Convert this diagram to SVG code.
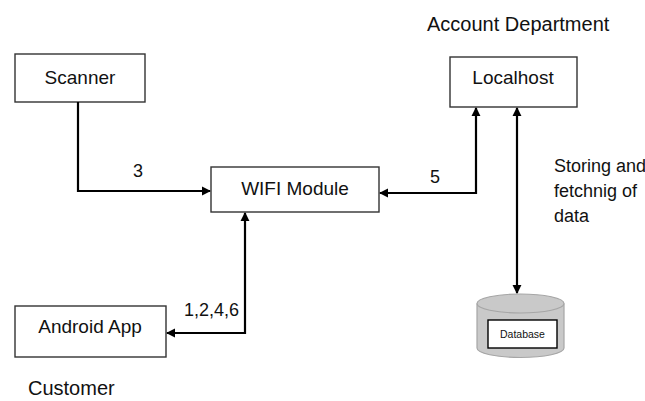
<svg xmlns="http://www.w3.org/2000/svg" width="645" height="401" viewBox="0 0 645 401">
  <defs>
    <marker id="arrow" viewBox="0 0 10 10" refX="9" refY="5" markerWidth="4.2" markerHeight="4.2" orient="auto-start-reverse" markerUnits="strokeWidth">
      <path d="M0,0 L10,5 L0,10 z" fill="#000"/>
    </marker>
  </defs>
  <style>
    .box { fill: #fff; stroke: #333; stroke-width: 1.4; }
    .node-text { font-family: "Liberation Sans", Arial, sans-serif; font-size: 19px; fill: #111; text-anchor: middle; }
    .label { font-family: "Liberation Sans", Arial, sans-serif; font-size: 18px; fill: #111; }
    .caption { font-family: "Liberation Sans", Arial, sans-serif; font-size: 20px; fill: #111; }
    .link { fill: none; stroke: #000; stroke-width: 2.2; }
    .cyl { fill: #c9c9c9; stroke: #a6a6a6; stroke-width: 1.2; }
  </style>
  <rect width="645" height="401" fill="#fff"/>

  <!-- captions -->
  <text class="caption" x="427" y="31">Account Department</text>
  <text class="caption" x="28" y="395">Customer</text>

  <!-- nodes -->
  <g id="scanner">
    <rect class="box" x="15" y="54" width="130" height="48"/>
    <text class="node-text" x="80" y="84">Scanner</text>
  </g>
  <g id="wifi-module">
    <rect class="box" x="211" y="167" width="168" height="45"/>
    <text class="node-text" x="295" y="195">WIFI Module</text>
  </g>
  <g id="localhost">
    <rect class="box" x="450" y="57" width="127" height="50"/>
    <text class="node-text" x="513" y="84">Localhost</text>
  </g>
  <g id="android-app">
    <rect class="box" x="15" y="306" width="151" height="51"/>
    <text class="node-text" x="90" y="333">Android App</text>
  </g>
  <g id="database">
    <path class="cyl" d="M477,303.5 L477,348 A43.5,9.5 0 0 0 564,348 L564,303.5"/>
    <ellipse class="cyl" cx="520.5" cy="303.5" rx="43.5" ry="9.5"/>
    <rect x="488" y="320" width="69" height="28" fill="#fff" stroke="#000" stroke-width="1.4"/>
    <text x="522.5" y="338" font-family="Liberation Sans, Arial, sans-serif" font-size="10.5px" fill="#111" text-anchor="middle">Database</text>
  </g>

  <!-- connectors -->
  <g id="connectors">
    <path class="link" d="M78,102 L78,191 L210,191" marker-end="url(#arrow)"/>
    <path class="link" d="M380,193 L476,193 L476,108" marker-start="url(#arrow)" marker-end="url(#arrow)"/>
    <path class="link" d="M167,333 L245,333 L245,213" marker-start="url(#arrow)" marker-end="url(#arrow)"/>
    <path class="link" d="M517,108 L517,293" marker-start="url(#arrow)" marker-end="url(#arrow)"/>
  </g>

  <!-- connector labels -->
  <text class="label" x="133" y="177">3</text>
  <text class="label" x="430" y="183">5</text>
  <text class="label" x="184" y="316">1,2,4,6</text>
  <text class="label" x="554" y="172">Storing and</text>
  <text class="label" x="554" y="197">fetchnig of</text>
  <text class="label" x="554" y="222">data</text>
</svg>
